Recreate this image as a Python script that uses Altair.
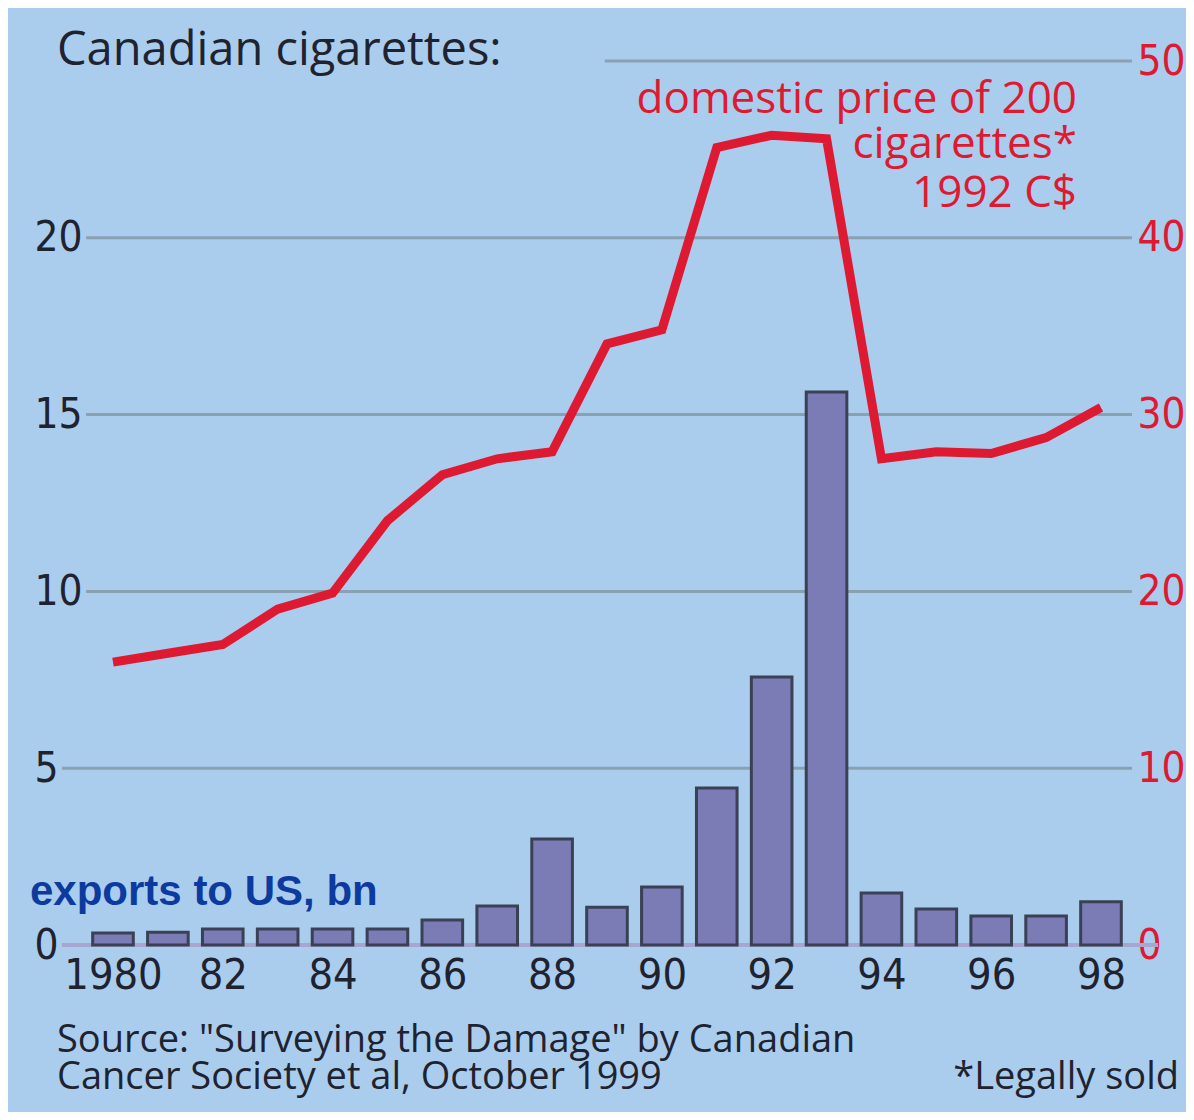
import altair as alt
import pandas as pd

years = list(range(1980, 1999))
exports_bn = [0.34, 0.36, 0.45, 0.45, 0.45, 0.45, 0.71, 1.1, 3.0, 1.07, 1.64,
              4.44, 7.58, 15.64, 1.47, 1.02, 0.82, 0.82, 1.22]
price_c = [16.0, 16.5, 17.0, 19.0, 19.9, 24.0, 26.6, 27.5, 27.9, 34.0, 34.8,
           45.1, 45.8, 45.6, 27.5, 27.9, 27.8, 28.7, 30.4]
tick_years = list(range(1980, 1999, 2))
left_ticks = [0, 5, 10, 15, 20]
right_ticks = [0, 10, 20, 30, 40, 50]
grid_values = [5, 10, 15, 20, 25]

title_text = "Canadian cigarettes:"
price_label = ["domestic price of 200", "cigarettes*", "1992 C$"]
export_label = "exports to US, bn"
source_lines = ['Source: "Surveying the Damage" by Canadian',
                "Cancer Society et al, October 1999"]
note_text = "*Legally sold"

BG = "#aacdee"
RED = "#de1a32"
GRID = "#8aa0b3"
DARK = "#1f2330"
NUM_FONT = "DejaVu Sans Condensed, DejaVu Sans, sans-serif"
TXT_FONT = "Open Sans, Lato, sans-serif"

W, H = 1070, 884
XMIN, XMAX = 1979.071, 1998.565

df = pd.DataFrame({"year": years, "exports": exports_bn, "price": price_c})

xscale = alt.Scale(domain=[XMIN, XMAX], nice=False, zero=False)
yleft = alt.Scale(domain=[0, 25], nice=False)
yright = alt.Scale(domain=[0, 50], nice=False)

xaxis = alt.Axis(values=tick_years, domain=False, ticks=False, grid=False,
                 labelExpr="datum.value == 1980 ? '1980' : slice(toString(datum.value), 2)",
                 labelFont=NUM_FONT, labelFontSize=43, labelColor=DARK,
                 labelPadding=9, title=None, labelFlush=False)

base = alt.Chart(df)

grid = alt.Chart(pd.DataFrame({"v": grid_values})).transform_calculate(
    xs=f"datum.v == 25 ? 1988.96 : (datum.v >= 10 ? 1979.51 : {XMIN})",
    xe=f"{XMAX}",
).mark_rule(color=GRID, strokeWidth=3).encode(
    x=alt.X("xs:Q", scale=xscale, axis=xaxis),
    x2="xe:Q",
    y=alt.Y("v:Q", scale=yleft,
            axis=alt.Axis(values=left_ticks, grid=False, domain=False, ticks=False,
                          labelFont=NUM_FONT, labelFontSize=42, labelColor=DARK,
                          labelAlign="left", labelPadding=28,
                          title=None, labelFlush=False)),
)

baseline = base.mark_rule(color="#a8a6d0", strokeWidth=4).encode(
    x=alt.value(0), x2=alt.value(W + 26), y=alt.datum(0)
)

bars = base.transform_calculate(
    x0="datum.year - 0.37", x1="datum.year + 0.37"
).mark_rect(fill="#7b7bb6", stroke="#3a4155", strokeWidth=3).encode(
    x=alt.X("x0:Q", scale=xscale),
    x2="x1:Q",
    y=alt.Y("exports:Q", scale=yleft),
    y2=alt.datum(0),
)

line = base.mark_line(color=RED, strokeWidth=9, strokeJoin="miter").encode(
    x=alt.X("year:Q", scale=xscale),
    y=alt.Y("price:Q", scale=yright,
            axis=alt.Axis(orient="right", values=right_ticks, grid=False, domain=False,
                          ticks=False, labelFont=NUM_FONT, labelFontSize=42,
                          labelColor=RED, labelPadding=5, title=None, labelFlush=False)),
)

one = pd.DataFrame({"k": [0]})

def label(text, x, y, size, color, align="left", font=TXT_FONT, weight="normal"):
    return alt.Chart(one).mark_text(
        text=text, align=align, baseline="alphabetic", font=font, fontSize=size,
        color=color, fontWeight=weight
    ).encode(x=alt.value(x), y=alt.value(y))

texts = [
    label(title_text, -5, 4, 47, DARK),
    label(price_label[0], 1015, 52, 44, RED, align="right"),
    label(price_label[1], 1015, 97, 44, RED, align="right"),
    label(price_label[2], 1015, 146, 44, RED, align="right"),
    label(export_label, -32, 844, 42, "#0d3a9e", font="Liberation Sans, Arial, sans-serif", weight="bold"),
    label(source_lines[0], -5, 991, 38, DARK),
    label(source_lines[1], -5, 1028, 38, DARK),
    label(note_text, 1117, 1028, 38, DARK, align="right"),
]

left_layer = alt.layer(grid, baseline, bars)
chart = alt.layer(left_layer, line, *texts).resolve_scale(y="independent").properties(
    width=W, height=H,
    padding={"left": 54, "top": 53, "right": 54, "bottom": 167},
    autosize=alt.AutoSizeParams(type="none"),
    background=BG,
).configure_view(stroke=None)

chart.save("out.html", embed_options={"renderer": "svg", "actions": False})
